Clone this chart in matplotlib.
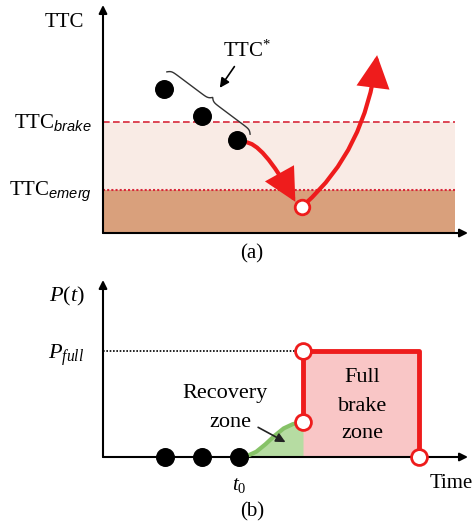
import numpy as np
import matplotlib.pyplot as plt
from matplotlib.patches import FancyArrowPatch
from matplotlib.path import Path

plt.rcParams['font.family'] = ['Liberation Serif', 'DejaVu Serif']
plt.rcParams['mathtext.fontset'] = 'custom'
plt.rcParams['mathtext.rm'] = 'Liberation Serif'
plt.rcParams['mathtext.it'] = 'Liberation Serif:italic'
plt.rcParams['mathtext.sf'] = 'Liberation Sans:italic'

# (a) TTC history and braking trajectory
ttc_t = [1.67, 2.71, 3.67]
ttc_v = [3.79, 3.08, 2.45]
ttc_brake = 2.92
ttc_emerg = 1.13
ttc_min_t, ttc_min_v = 5.45, 0.68
# quadratic Bezier control points of the two trajectory arrows
down_t = [3.89, 4.36, 5.27]
down_v = [2.39, 2.39, 0.82]
up_t = [5.53, 7.18, 7.51]
up_v = [0.76, 2.18, 4.68]

# (b) brake pressure profile
p_full = 1.0
dots_t = [1.70, 2.71, 3.73]
t0 = 3.73
t_step = 5.48
p_step = 0.33
t_end = 8.66
rec_t = [3.73, 3.95, 4.20, 4.45, 4.70, 4.95, 5.20, 5.48]
rec_p = [0.0, 0.01, 0.05, 0.12, 0.20, 0.27, 0.31, 0.33]

RED = '#ee1c1c'
W, H = 473, 529
fig = plt.figure(figsize=(W / 100, H / 100), dpi=100)


def axis_arrow(ax, end):
    ax.annotate('', xy=end, xytext=(0, 0), annotation_clip=False,
                arrowprops=dict(arrowstyle='-|>', color='k', lw=1.5, mutation_scale=12,
                                shrinkA=0, shrinkB=0))


def curved_arrow(ax, xs, ys):
    verts = list(zip(xs, ys))
    path = Path(verts, [Path.MOVETO, Path.CURVE3, Path.CURVE3])
    ax.add_patch(FancyArrowPatch(path=path, arrowstyle='-|>,head_length=0.55,head_width=0.28',
                                 mutation_scale=34, color=RED, lw=3, zorder=3,
                                 capstyle='round', joinstyle='miter'))


def brace(ax, p0, p1, height, sx, sy, **kw):
    # curly brace from p0 to p1, tip bulging to the left of the p0->p1 direction
    a = np.array([p0[0] * sx, p0[1] * sy])
    b = np.array([p1[0] * sx, p1[1] * sy])
    d = b - a
    length = np.hypot(*d)
    u = d / length
    n = np.array([-u[1], u[0]])
    half = np.linspace(0, length / 2, 60)
    beta = 0.6
    y_half = (1 / (1 + np.exp(-beta * (half - half[0])))
              + 1 / (1 + np.exp(-beta * (half - half[-1]))) - 0.5)
    s = np.concatenate([half, length - half[-2::-1]])
    h = np.concatenate([y_half, y_half[-2::-1]]) * height
    pts = a[None, :] + s[:, None] * u[None, :] + h[:, None] * n[None, :]
    ax.plot(pts[:, 0] / sx, pts[:, 1] / sy, **kw)


ax1 = fig.add_axes([103 / W, (H - 233) / H, 365 / W, 228 / H])
ax1.set_xlim(0, 10)
ax1.set_ylim(0, 6)
ax1.axis('off')

ax1.fill_between([0, 9.64], 0, ttc_emerg, color='#d9a07c', lw=0)
ax1.fill_between([0, 9.64], ttc_emerg, ttc_brake, color='#f9ebe5', lw=0)
ax1.plot([0, 9.64], [ttc_brake, ttc_brake], ls=(0, (4, 2)), color='#d8283a', lw=1.2)
ax1.plot([0, 9.64], [ttc_emerg, ttc_emerg], ls=(0, (1, 1)), color='#d8283a', lw=1.5)
axis_arrow(ax1, (10, 0))
axis_arrow(ax1, (0, 6.0))

curved_arrow(ax1, down_t, down_v)
curved_arrow(ax1, up_t, up_v)

ax1.scatter(ttc_t, ttc_v, s=160, color='k', zorder=4)
ax1.scatter([ttc_min_t], [ttc_min_v], s=110, facecolor='white', edgecolor=RED, lw=2, zorder=5)

brace(ax1, (1.75, 4.24), (4.03, 2.60), 7.0, 36.5, 38.0, color='#333333', lw=1.0)
ax1.annotate('', xy=(3.20, 3.82), xytext=(3.60, 4.38),
             arrowprops=dict(arrowstyle='-|>', color='k', lw=1.2, mutation_scale=14,
                             shrinkA=0, shrinkB=0))
ax1.text(3.95, 4.78, 'TTC$^{*}$', fontsize=15, ha='center', va='center')

ax1.text(-1.07, 5.55, 'TTC', fontsize=15, ha='center', va='center')
ax1.text(-0.3, ttc_brake, r'TTC$_{\mathsf{brake}}$', fontsize=15, ha='right', va='center')
ax1.text(-0.3, ttc_emerg - 0.05, r'TTC$_{\mathsf{emerg}}$', fontsize=15, ha='right', va='center')
ax1.text(4.08, -0.55, '(a)', fontsize=15, ha='center', va='center')

ax2 = fig.add_axes([103 / W, (H - 457) / H, 365 / W, 177 / H])
ax2.set_xlim(0, 10)
ax2.set_ylim(0, 1.67)
ax2.axis('off')

ax2.fill_between([t_step, t_end], 0, p_full, color='#f9c6c6', lw=0)
ax2.fill_between(rec_t, 0, rec_p, color='#b6dca2', lw=0)
ax2.plot([0, t_step], [p_full, p_full], ls=(0, (1, 1)), color='k', lw=1.2)
axis_arrow(ax2, (10, 0))
axis_arrow(ax2, (0, 1.67))

ax2.plot(rec_t, rec_p, color='#86c267', lw=3, zorder=3)
ax2.plot([t_step, t_step, t_end, t_end], [p_step, p_full, p_full, 0], color=RED, lw=3.5,
         zorder=3, clip_on=False)
ax2.scatter(dots_t, [0] * len(dots_t), s=160, color='k', zorder=4, clip_on=False)
ax2.scatter([t_step, t_step, t_end], [p_full, p_step, 0], s=130, facecolor='white',
            edgecolor=RED, lw=2, zorder=5, clip_on=False)

ax2.annotate('', xy=(5.0, 0.14), xytext=(4.25, 0.28),
             arrowprops=dict(arrowstyle='-|>', color='#222222', lw=1.2, mutation_scale=14,
                             shrinkA=0, shrinkB=0))
ax2.text(3.35, 0.60, 'Recovery', fontsize=16, ha='center', va='center')
ax2.text(3.50, 0.33, 'zone', fontsize=16, ha='center', va='center')
ax2.text(7.10, 0.75, 'Full', fontsize=16, ha='center', va='center')
ax2.text(7.10, 0.48, 'brake', fontsize=16, ha='center', va='center')
ax2.text(7.10, 0.22, 'zone', fontsize=16, ha='center', va='center')

ax2.text(-1.0, 1.51, '$P(t)$', fontsize=16, ha='center', va='center')
ax2.text(-1.0, 0.96, r'$P_{full}$', fontsize=16, ha='center', va='center')
ax2.text(t0, -0.27, '$t_0$', fontsize=15, ha='center', va='center')
ax2.text(9.55, -0.25, 'Time', fontsize=15, ha='center', va='center')
ax2.text(4.08, -0.52, '(b)', fontsize=15, ha='center', va='center')

fig.savefig('out.png', dpi=100)
